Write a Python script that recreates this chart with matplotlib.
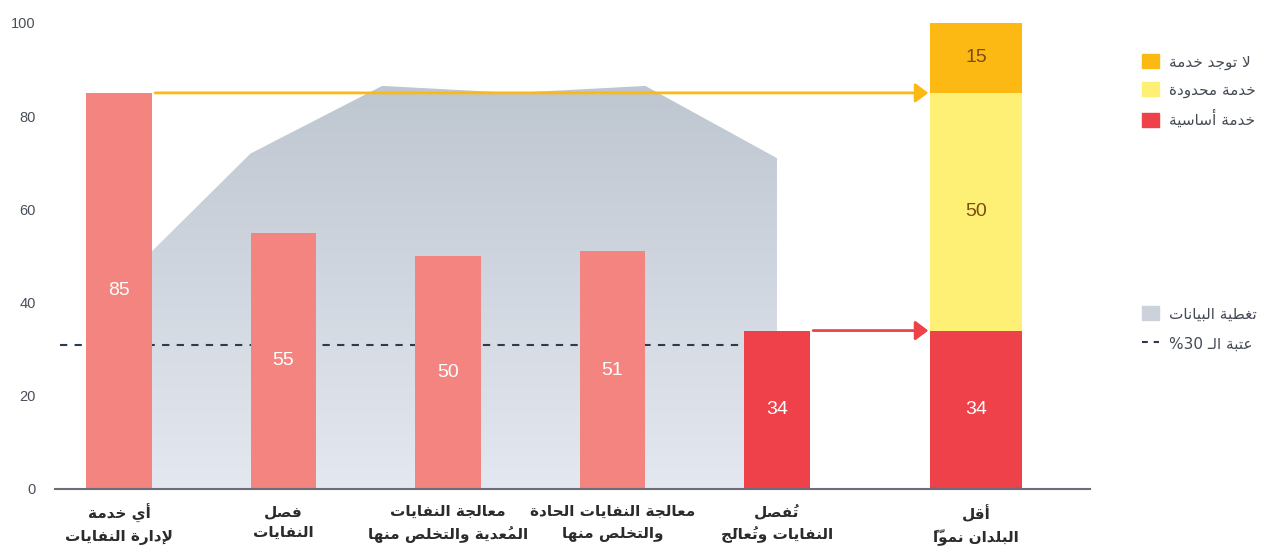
import unicodedata
import numpy as np
import matplotlib
matplotlib.use('Agg')
import matplotlib.pyplot as plt
from matplotlib.patches import Polygon, Patch
from matplotlib.lines import Line2D
from matplotlib.colors import LinearSegmentedColormap

# ===== DATA =====
categories = ["أي خدمة\nلإدارة النفايات", "فصل\nالنفايات",
              "معالجة النفايات\nالمُعدية والتخلص منها",
              "معالجة النفايات الحادة\nوالتخلص منها", "تُفصل\nالنفايات وتُعالَج"]
values = [85, 55, 50, 51, 34]
bar_colors = ['#f4847f', '#f4847f', '#f4847f', '#f4847f', '#ef414a']

ldc_label = "أقل\nالبلدان نموّاً"
ldc_heights = [34, 51, 15]
ldc_text = ["34", "50", "15"]
ldc_names = ["خدمة أساسية", "خدمة محدودة", "لا توجد خدمة"]
ldc_colors = ['#ef414a', '#fef074', '#fdb913']
ldc_text_colors = ['white', '#7d4b14', '#7d4b14']

coverage_x = [0.2, 0.8, 1.6, 2.4, 3.2, 4.0]
coverage_y = [51, 72, 86.5, 85, 86.5, 71]
threshold = 31
yticks = [0, 20, 40, 60, 80, 100]

coverage_name = "تغطية البيانات"
threshold_name = "عتبة الـ"

# ===== ARABIC SHAPING (matplotlib has no RTL / joining support) =====
FORMS = {}
for cp in list(range(0xFE70, 0xFF00)) + list(range(0xFB50, 0xFE00)):
    name = unicodedata.name(chr(cp), '')
    for form in ('ISOLATED', 'FINAL', 'INITIAL', 'MEDIAL'):
        tail = ' ' + form + ' FORM'
        if name.startswith('ARABIC LETTER ') and name.endswith(tail):
            try:
                base = unicodedata.lookup(name[:-len(tail)])
            except KeyError:
                continue
            FORMS.setdefault(base, {}).setdefault(form, chr(cp))

LAM_ALEF = {'ا': ('\ufefb', '\ufefc'), 'أ': ('\ufef7', '\ufef8'),
            'إ': ('\ufef9', '\ufefa'), 'آ': ('\ufef5', '\ufef6')}
for iso, fin in LAM_ALEF.values():
    FORMS[iso] = {'ISOLATED': iso, 'FINAL': fin}
RIGHT_ONLY = set('اأإآدذرزوؤة') | {p[0] for p in LAM_ALEF.values()}


def is_arabic(c):
    return c in FORMS or c == 'ـ'


def joins_left(c):
    return is_arabic(c) and c not in RIGHT_ONLY and c != 'ء'


def shape_line(line):
    clusters = []
    for ch in line:
        if unicodedata.combining(ch) and clusters:
            clusters[-1][1] += ch
        elif ch in LAM_ALEF and clusters and clusters[-1][0] == 'ل' and not clusters[-1][1]:
            clusters[-1][0] = LAM_ALEF[ch][0]
        else:
            clusters.append([ch, ''])
    out = []
    for i, (b, m) in enumerate(clusters):
        prev = clusters[i - 1][0] if i > 0 else ''
        nxt = clusters[i + 1][0] if i + 1 < len(clusters) else ''
        jp = is_arabic(b) and joins_left(prev)
        jn = joins_left(b) and is_arabic(nxt)
        f = {(True, True): 'MEDIAL', (True, False): 'FINAL',
             (False, True): 'INITIAL', (False, False): 'ISOLATED'}[(jp, jn)]
        g = FORMS.get(b, {}).get(f) or FORMS.get(b, {}).get('ISOLATED') or b
        # zero-width marks are drawn right of the pen, so put them before the letter
        out.append(m + g)
    return ''.join(reversed(out))


def shape(text):
    return '\n'.join(shape_line(l) for l in text.split('\n'))


# ===== FIGURE =====
W, H = 1266, 552
fig = plt.figure(figsize=(W / 100, H / 100), dpi=100)
ax = fig.add_axes([55 / W, 1 - 489 / H, (1090 - 55) / W, (489 - 23) / H])

x = np.arange(len(values))
stack_x = 5.21
bar_w = 0.4
stack_w = 0.56

# data coverage area with vertical gradient
poly_pts = [(coverage_x[0], 0)] + list(zip(coverage_x, coverage_y)) + [(coverage_x[-1], 0)]
poly = Polygon(poly_pts, closed=True, fc='none', ec='none')
ax.add_patch(poly)
cmap = LinearSegmentedColormap.from_list('cov', ['#e4e8f0', '#bec6d0'])
grad = np.linspace(0, 1, 256).reshape(-1, 1)
im = ax.imshow(grad, extent=[coverage_x[0], coverage_x[-1], 0, max(coverage_y)],
               origin='lower', cmap=cmap, aspect='auto', zorder=1)
im.set_clip_path(poly)

# 30% threshold
ax.plot([-0.36, x[-1]], [threshold, threshold], color='#2e3a4e', lw=1.5,
        dashes=(3.5, 3.5), zorder=2)

# bars
ax.bar(x, values, width=bar_w, color=bar_colors, zorder=3)
for xi, v in zip(x, values):
    ax.text(xi, v / 2, str(v), ha='center', va='center', color='white',
            fontsize=14, family='Liberation Sans', zorder=5)

bottom = 0
for h, t, c, tc in zip(ldc_heights, ldc_text, ldc_colors, ldc_text_colors):
    ax.bar(stack_x, h, bottom=bottom, width=stack_w, color=c, zorder=3)
    ax.text(stack_x, bottom + h / 2, t, ha='center', va='center', color=tc,
            fontsize=14, family='Liberation Sans', zorder=5)
    bottom += h

# arrows towards the LDC bar
stack_left = stack_x - stack_w / 2
for xi, v, c in [(x[0], values[0], '#fdb913'), (x[-1], values[-1], '#ef414a')]:
    ax.annotate('', xy=(stack_left - 0.01, v), xytext=(xi + bar_w / 2 + 0.02, v),
                arrowprops=dict(arrowstyle='-|>,head_length=0.6,head_width=0.45',
                                color=c, lw=2, shrinkA=0, shrinkB=0,
                                mutation_scale=13), zorder=4)

# axes styling
ax.set_xlim(-0.389, 5.903)
ax.set_ylim(0, 100)
for s in ['top', 'right', 'left']:
    ax.spines[s].set_visible(False)
ax.spines['bottom'].set_color('#6b6d78')
ax.spines['bottom'].set_linewidth(1.5)
ax.spines['bottom'].set_zorder(6)
ax.set_yticks(yticks)
ax.set_yticklabels([str(t) for t in yticks], family='Liberation Sans',
                   fontsize=10.5, color='#4a4f5c')
ax.tick_params(axis='y', length=0, pad=14)
ax.set_xticks(list(x) + [stack_x])
ax.set_xticklabels([shape(c) for c in categories + [ldc_label]],
                   family='DejaVu Sans', fontweight='bold', fontsize=11,
                   color='#2b2b2b', linespacing=1.5)
ax.tick_params(axis='x', length=0, pad=11)

# legends
handles1 = [Patch(color=c) for c in ldc_colors[::-1]]
leg1 = fig.legend(handles1, [shape(n) for n in ldc_names[::-1]],
                  loc='upper left', bbox_to_anchor=(1128 / W, 1 - 40 / H),
                  frameon=False, handlelength=1.1, handleheight=1.1,
                  handletextpad=0.7, labelspacing=0.8,
                  prop={'family': 'DejaVu Sans', 'size': 11}, labelcolor='#444a55')
handles2 = [Patch(color='#ccd2db'),
            Line2D([], [], color='#2e3a4e', lw=1.5, dashes=(2.8, 2.8))]
leg2 = fig.legend(handles2, [shape(coverage_name), '%30 ' + shape(threshold_name)],
                  loc='upper left', bbox_to_anchor=(1128 / W, 1 - 292 / H),
                  frameon=False, handlelength=1.1, handleheight=1.1,
                  handletextpad=0.7, labelspacing=0.95,
                  prop={'family': 'DejaVu Sans', 'size': 11}, labelcolor='#444a55')

fig.savefig('out.png', dpi=100)
